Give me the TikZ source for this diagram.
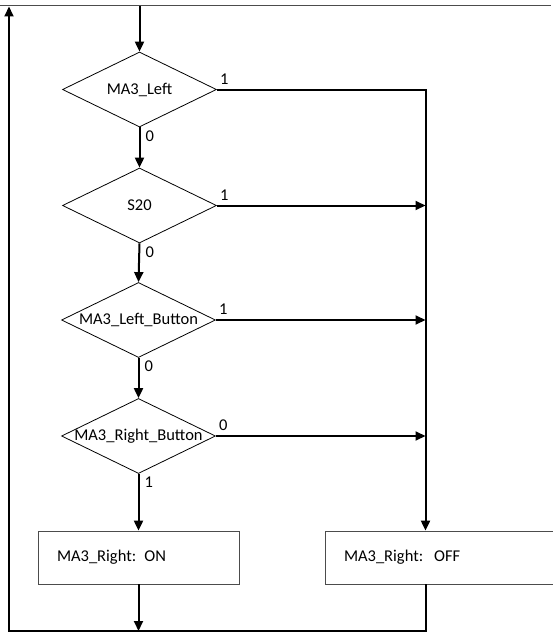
\documentclass[tikz,border=0pt]{standalone}
\usepackage{fontspec}
\setmainfont{Carlito}
\usetikzlibrary{shapes.geometric,arrows.meta,positioning}

\begin{document}
\begin{tikzpicture}[x=1pt,y=-1pt,font=\fontsize{16.5}{19}\selectfont,
		flow/.style={line width=2pt,-{Triangle[length=10pt,width=9pt]}},
		test/.style={diamond,draw,line width=0.8pt,minimum width=154pt,minimum height=75pt,inner sep=0pt},
		act/.style={rectangle,draw=black!70,line width=0.8pt,minimum height=53pt,text width=163pt,inner xsep=19pt,align=left},
		lbl/.style={inner sep=0pt}]
			\useasboundingbox (0,0) rectangle (552,634);
			\draw[gray!60!black,line width=1.2pt] (0,5.5) -- (551,5.5);
			\coordinate (start) at (139.5,6);
			\node[test,label=center:{MA3\_Left}] (left) at (139.5,89.5) {};
			\node[test,label=center:{S20}] (sw) at (139.5,205.5) {};
			\node[test,label=center:{MA3\_Left\_Button}] (lbtn) at (138.5,320) {};
			\node[test,label=center:{MA3\_Right\_Button}] (rbtn) at (138.5,436) {};
			\node[act] (on) at (138.5,557.5) {MA3\_Right: ON};
			\node[act,text width=202pt] (off) at (445,557.5) {MA3\_Right:\ \ OFF};
			\coordinate (corner) at (425.5,89.5);
			\coordinate (bl) at (9,631);
			\coordinate (tl) at (9,6.5);
			\draw[flow] (start) -- (left.north);
			\draw[flow] (left.south) -- (sw.north);
			\draw[flow] (sw.south) -- (lbtn.north);
			\draw[flow] (lbtn.south) -- (rbtn.north);
			\draw[flow] (rbtn.south) -- (on.north);
			\draw[flow] (left.east) -- (corner) -- (corner |- off.north);
			\draw[flow] (sw.east) -- (sw.east -| corner);
			\draw[flow] (lbtn.east) -- (lbtn.east -| corner);
			\draw[flow] (rbtn.east) -- (rbtn.east -| corner);
			\draw[flow] (on.south) -- (on.south |- bl);
			\draw[flow] (corner |- off.south) -- (corner |- bl) -- (bl) -- (tl);
			\node[lbl,above right=5pt and 3pt of left.east] (l1) {1};
			\node[lbl,below right=3pt and 6pt of left.south] (l0) {0};
			\node[lbl,above right=5pt and 3pt of sw.east] (s1) {1};
			\node[lbl,below right=3pt and 6pt of sw.south] (s0) {0};
			\node[lbl,above right=5pt and 3pt of lbtn.east] (lb1) {1};
			\node[lbl,below right=3pt and 6pt of lbtn.south] (lb0) {0};
			\node[lbl,above right=5pt and 3pt of rbtn.east] (rb0) {0};
			\node[lbl,below right=3pt and 6pt of rbtn.south] (rb1) {1};
		\end{tikzpicture}
\end{document}
